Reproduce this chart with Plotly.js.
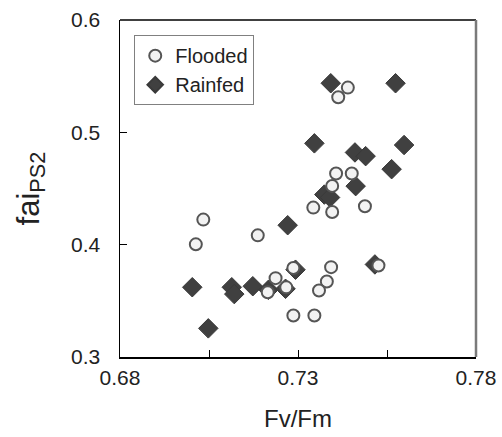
<!DOCTYPE html>
<html>
<head>
<meta charset="utf-8">
<script src="https://cdn.plot.ly/plotly-3.0.1.min.js"></script>
<style>html,body{margin:0;padding:0;background:#fff;}#chart{width:502px;height:437px;}</style>
</head>
<body>
<div id="chart"></div>
<script>
// Flooded (circles)
var floodedX = [0.7440, 0.7413, 0.7407, 0.7451, 0.7396, 0.7343, 0.7396, 0.7488, 0.7034, 0.7013,
                0.7187, 0.7287, 0.7393, 0.7381, 0.7359, 0.7237, 0.7215, 0.7287, 0.7346, 0.7526, 0.7267];
var floodedY = [0.5398, 0.5312, 0.4634, 0.4634, 0.4523, 0.4330, 0.4291, 0.4342, 0.4223, 0.4003,
                0.4083, 0.3792, 0.3800, 0.3672, 0.3592, 0.3702, 0.3577, 0.3369, 0.3369, 0.3815, 0.3620];
// Rainfed (diamonds)
var rainfedX = [0.7392, 0.7574, 0.7346, 0.7598, 0.7460, 0.7490, 0.7563, 0.7462, 0.7374, 0.7271,
                0.7293, 0.7516, 0.7003, 0.7114, 0.7121, 0.7173, 0.7217, 0.7265, 0.7048, 0.7390];
var rainfedY = [0.5437, 0.5437, 0.4902, 0.4887, 0.4821, 0.4788, 0.4672, 0.4521, 0.4446, 0.4173,
                0.3777, 0.3824, 0.3621, 0.3621, 0.3560, 0.3630, 0.3598, 0.3607, 0.3255, 0.4420];
var seriesNames = ["Flooded", "Rainfed"];
var xTickVals = [0.68, 0.73, 0.78];
var xTickText = ["0.68", "0.73", "0.78"];
var yTickVals = [0.3, 0.4, 0.5, 0.6];
var yTickText = ["0.3", "0.4", "0.5", "0.6"];

var FONT = "Liberation Sans, Arial, sans-serif";

var traces = [
  {
    x: rainfedX, y: rainfedY, type: "scatter", mode: "markers", name: seriesNames[1],
    legendrank: 2,
    marker: {symbol: "diamond", size: 15, color: "#404040", line: {color: "#3a3a3a", width: 1}}
  },
  {
    x: floodedX, y: floodedY, type: "scatter", mode: "markers", name: seriesNames[0],
    legendrank: 1,
    marker: {symbol: "circle", size: 12, color: "#f2f2f2", line: {color: "#555555", width: 2}}
  }
];

var layout = {
  width: 502, height: 437,
  margin: {l: 120, r: 26, t: 19.5, b: 80},
  paper_bgcolor: "#ffffff", plot_bgcolor: "#ffffff",
  font: {family: FONT, color: "#222222", size: 21},
  showlegend: true,
  legend: {
    x: 0.04, y: 0.955, xanchor: "left", yanchor: "top",
    bgcolor: "#ffffff", bordercolor: "#808080", borderwidth: 1,
    font: {family: FONT, size: 20, color: "#222222"},
    traceorder: "normal", itemwidth: 30, itemsizing: "constant"
  },
  xaxis: {
    range: [0.68, 0.78], tickmode: "array", tickvals: xTickVals, ticktext: xTickText,
    ticks: "inside", ticklen: 7, tickwidth: 1, tickcolor: "#000",
    minor: {ticks: "inside", tick0: 0.68, dtick: 0.025, ticklen: 7, tickwidth: 1, tickcolor: "#000", showgrid: false},
    showline: true, linecolor: "#000", linewidth: 1.5, showgrid: false, zeroline: false,
    tickfont: {family: FONT, size: 21, color: "#222"},
    ticklabelstandoff: 1,
    title: {text: "Fv/Fm", font: {family: FONT, size: 24, color: "#222"}, standoff: 22}
  },
  yaxis: {
    range: [0.3, 0.6], tickmode: "array", tickvals: yTickVals, ticktext: yTickText,
    ticks: "inside", ticklen: 7, tickwidth: 1, tickcolor: "#000",
    showline: true, linecolor: "#000", linewidth: 1.5, showgrid: false, zeroline: false,
    tickfont: {family: FONT, size: 21, color: "#222"},
    ticklabelstandoff: 14,
    title: {text: "fai<sub>PS2</sub>", font: {family: FONT, size: 31, color: "#222"}, standoff: 22}
  },
  shapes: [
    {type: "line", xref: "paper", yref: "paper", x0: 0, x1: 1, y0: 1, y1: 1, line: {color: "#000", width: 1.5}},
    {type: "line", xref: "paper", yref: "paper", x0: 1, x1: 1, y0: 0, y1: 1, line: {color: "#7a7a7a", width: 2.5}}
  ]
};

Plotly.newPlot("chart", traces, layout, {displayModeBar: false, staticPlot: true});
</script>
</body>
</html>
